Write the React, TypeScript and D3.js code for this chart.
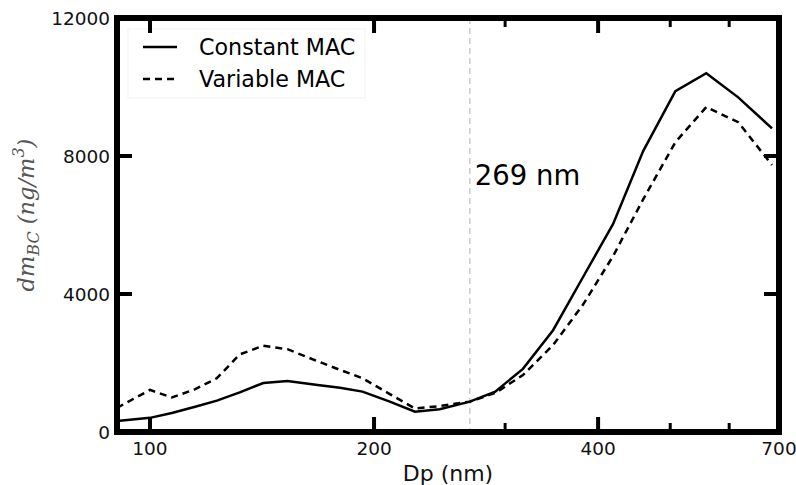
import React, { useEffect, useRef } from 'react';
import * as d3 from 'd3';

// Particle diameter bins (nm)
const diameters = [90.3, 100, 107, 115, 123, 132, 142, 153, 168, 180, 193, 210, 227, 245, 269, 291, 317, 348, 382, 419, 460, 508, 559, 617, 685];
// BC mass distribution with constant MAC (ng/m3)
const constantMAC = [320, 410, 550, 730, 910, 1150, 1420, 1480, 1360, 1280, 1170, 880, 590, 660, 880, 1170, 1830, 2950, 4500, 6030, 8150, 9880, 10400, 9700, 8800];
// BC mass distribution with variable MAC (ng/m3)
const variableMAC = [700, 1220, 1000, 1240, 1560, 2250, 2500, 2400, 2050, 1800, 1560, 1100, 680, 750, 880, 1130, 1650, 2520, 3700, 5100, 6750, 8400, 9420, 8980, 7740];

const xMajor = [100, 200, 400, 700];
const xMinor = [300, 500, 600];
const yTicks = [0, 4000, 8000, 12000];
const cutoff = 269;

export default function App() {
  const ref = useRef<SVGSVGElement>(null);

  useEffect(() => {
    const svg = d3.select(ref.current);
    svg.selectAll('*').remove();

    const left = 117, right = 779, top = 18, bottom = 432;
    const font = 'DejaVu Sans, sans-serif';

    const x = d3.scaleLog().domain([90.3, 700]).range([left, right]);
    const y = d3.scaleLinear().domain([0, 12000]).range([bottom, top]);

    const plot = svg.append('g');

    // clip
    svg.append('defs').append('clipPath').attr('id', 'clip')
      .append('rect').attr('x', left).attr('y', top).attr('width', right - left).attr('height', bottom - top);

    // cutoff line
    plot.append('line')
      .attr('x1', x(cutoff)).attr('x2', x(cutoff))
      .attr('y1', top).attr('y2', bottom)
      .attr('stroke', '#bdbdbd').attr('stroke-width', 1.2)
      .attr('stroke-dasharray', '6,4');

    plot.append('text')
      .attr('x', x(cutoff) + 5).attr('y', 185)
      .attr('font-family', font).attr('font-size', 27.5)
      .text('269 nm');

    const line = d3.line<number>()
      .x((_, i) => x(diameters[i]))
      .y(d => y(d));

    const lines = plot.append('g').attr('clip-path', 'url(#clip)');
    lines.append('path').datum(constantMAC)
      .attr('d', line).attr('fill', 'none')
      .attr('stroke', '#000').attr('stroke-width', 2.5);
    lines.append('path').datum(variableMAC)
      .attr('d', line).attr('fill', 'none')
      .attr('stroke', '#000').attr('stroke-width', 2.5)
      .attr('stroke-dasharray', '7,5');

    // legend
    const lg = plot.append('g');
    lg.append('rect').attr('x', 128).attr('y', 29).attr('width', 237).attr('height', 69)
      .attr('fill', '#fff').attr('stroke', '#f2f2f2');
    lg.append('line').attr('x1', 143).attr('x2', 177).attr('y1', 47).attr('y2', 47)
      .attr('stroke', '#000').attr('stroke-width', 2.5);
    lg.append('line').attr('x1', 143).attr('x2', 177).attr('y1', 79).attr('y2', 79)
      .attr('stroke', '#000').attr('stroke-width', 2.5).attr('stroke-dasharray', '7,5');
    lg.append('text').attr('x', 199).attr('y', 55).attr('font-family', font).attr('font-size', 22.2)
      .text('Constant MAC');
    lg.append('text').attr('x', 199).attr('y', 87).attr('font-family', font).attr('font-size', 22.2)
      .text('Variable MAC');

    // ticks
    const ticks = plot.append('g').attr('stroke', '#000');
    xMajor.forEach(v => {
      ticks.append('line').attr('x1', x(v)).attr('x2', x(v)).attr('y1', bottom).attr('y2', bottom - 15).attr('stroke-width', 4);
      ticks.append('line').attr('x1', x(v)).attr('x2', x(v)).attr('y1', top).attr('y2', top + 15).attr('stroke-width', 4);
    });
    xMinor.forEach(v => {
      ticks.append('line').attr('x1', x(v)).attr('x2', x(v)).attr('y1', bottom).attr('y2', bottom - 9).attr('stroke-width', 3);
      ticks.append('line').attr('x1', x(v)).attr('x2', x(v)).attr('y1', top).attr('y2', top + 9).attr('stroke-width', 3);
    });
    yTicks.forEach(v => {
      ticks.append('line').attr('x1', left).attr('x2', left + 15).attr('y1', y(v)).attr('y2', y(v)).attr('stroke-width', 4);
      ticks.append('line').attr('x1', right).attr('x2', right - 15).attr('y1', y(v)).attr('y2', y(v)).attr('stroke-width', 4);
    });

    // frame
    plot.append('rect').attr('x', left).attr('y', top).attr('width', right - left).attr('height', bottom - top)
      .attr('fill', 'none').attr('stroke', '#000').attr('stroke-width', 6);

    // tick labels
    xMajor.forEach(v => {
      plot.append('text').attr('x', x(v)).attr('y', 455).attr('text-anchor', 'middle')
        .attr('font-family', font).attr('font-size', 18.5).attr('fill', '#111').text(v);
    });
    yTicks.forEach(v => {
      plot.append('text').attr('x', 110).attr('y', y(v) + 7).attr('text-anchor', 'end')
        .attr('font-family', font).attr('font-size', 18.5).attr('fill', '#111').text(v);
    });

    plot.append('text').attr('x', 448).attr('y', 481).attr('text-anchor', 'middle')
      .attr('font-family', font).attr('font-size', 22).attr('fill', '#111').text('Dp (nm)');

    // y label
    const yl = plot.append('text')
      .attr('transform', 'translate(34,215) rotate(-90)')
      .attr('text-anchor', 'middle')
      .attr('font-family', 'DejaVu Serif, serif').attr('font-style', 'italic')
      .attr('font-size', 22.5).attr('fill', '#555');
    yl.append('tspan').text('dm');
    yl.append('tspan').attr('font-size', 16).attr('dy', 5).text('BC');
    yl.append('tspan').attr('dy', -5).text('  (ng/m');
    yl.append('tspan').attr('font-size', 16).attr('dy', -10).text('3');
    yl.append('tspan').attr('dy', 10).text(')');
  }, []);

  return (
    <svg ref={ref} width={796} height={485} style={{ position: 'absolute', left: 0, top: 0, background: '#fff' }} />
  );
}
